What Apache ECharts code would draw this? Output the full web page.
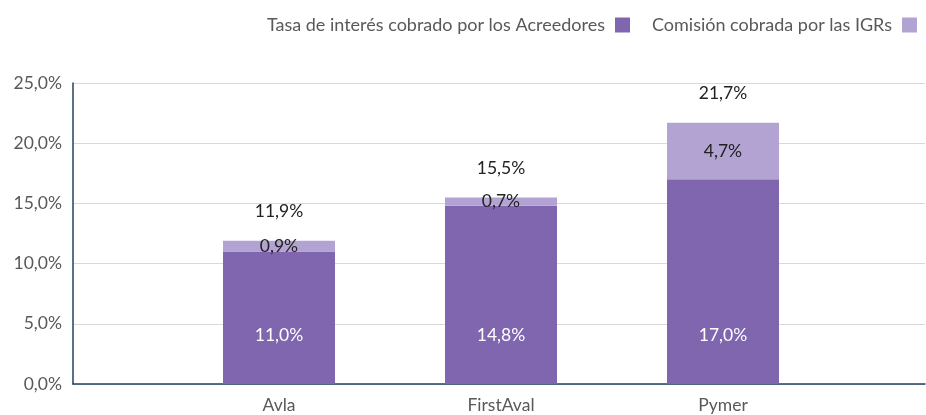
<!DOCTYPE html>
<html>
<head>
<meta charset="utf-8">
<script src="https://cdn.jsdelivr.net/npm/echarts@6/dist/echarts.min.js"></script>
<style>
	html, body { margin: 0; padding: 0; background: #fff; }
	#chart { width: 926px; height: 415px; }
</style>
</head>
<body>
<div id="chart"></div>
<script>
// datos
const categories = ['Avla', 'FirstAval', 'Pymer'];
const tasaAcreedores = [11.0, 14.8, 17.0];
const comisionIGR = [0.9, 0.7, 4.7];
const totales = [11.9, 15.5, 21.7];
const yTicks = [0, 5, 10, 15, 20, 25];

const FONT = 'Lato';
const fmt = v => v.toFixed(1).replace('.', ',') + '%';

let myChart = echarts.init(document.getElementById('chart'));
myChart.setOption({
	animation: false,
	textStyle: { fontFamily: FONT },
	legend: {
		top: 11,
		right: 4,
		align: 'right',
		itemWidth: 15,
		itemHeight: 15,
		itemGap: 22,
		icon: 'rect',
		data: ['Tasa de interés cobrado por los Acreedores', 'Comisión cobrada por las IGRs'],
		textStyle: { fontFamily: FONT, fontSize: 18, color: '#595959', padding: [0, 5, 0, 0] }
	},
	grid: [
		// grilla completa: ejes y líneas
		{ left: 73, right: 1, top: 83, bottom: 31 },
		// grilla de barras
		{ left: 168, right: 92, top: 83, bottom: 31 }
	],
	xAxis: [
		{
			gridIndex: 0,
			type: 'value',
			min: 0,
			max: 1,
			axisLine: { show: true, lineStyle: { color: '#22405F', width: 1.5 } },
			axisTick: { show: false },
			axisLabel: { show: false },
			splitLine: { show: false }
		},
		{
			gridIndex: 1,
			type: 'category',
			data: categories,
			axisLine: { show: false },
			axisTick: { show: false },
			axisLabel: { fontFamily: FONT, fontSize: 17.5, color: '#595959', margin: 12 }
		}
	],
	yAxis: [
		{
			gridIndex: 0,
			type: 'value',
			min: yTicks[0],
			max: yTicks[yTicks.length - 1],
			interval: 5,
			axisLine: { show: true, lineStyle: { color: '#22405F', width: 1.5 } },
			axisTick: { show: false },
			axisLabel: { fontFamily: FONT, fontSize: 17.5, color: '#595959', margin: 11, formatter: fmt },
			splitLine: { lineStyle: { color: '#D9D9D9' } }
		},
		{
			gridIndex: 1,
			type: 'value',
			min: yTicks[0],
			max: yTicks[yTicks.length - 1],
			show: false
		}
	],
	series: [
		{
			name: 'Tasa de interés cobrado por los Acreedores',
			type: 'bar',
			xAxisIndex: 1,
			yAxisIndex: 1,
			stack: 'total',
			barWidth: 112,
			data: tasaAcreedores,
			itemStyle: { color: '#7F66AE' },
			label: {
				show: true,
				position: ['50%', '100%'],
				offset: [0, -49],
				align: 'center',
				verticalAlign: 'middle',
				color: '#fff',
				fontFamily: FONT,
				fontSize: 17.5,
				formatter: p => fmt(p.value)
			}
		},
		{
			name: 'Comisión cobrada por las IGRs',
			type: 'bar',
			xAxisIndex: 1,
			yAxisIndex: 1,
			stack: 'total',
			barWidth: 112,
			data: comisionIGR,
			itemStyle: { color: '#B3A3D2' },
			label: {
				show: true,
				position: 'inside',
				color: '#222',
				fontFamily: FONT,
				fontSize: 17.5,
				formatter: p => fmt(p.value)
			}
		},
		{
			// totales (barra transparente)
			name: 'Total',
			type: 'bar',
			xAxisIndex: 1,
			yAxisIndex: 1,
			barWidth: 112,
			barGap: '-100%',
			z: 1,
			data: totales,
			itemStyle: { color: 'rgba(0,0,0,0)' },
			label: {
				show: true,
				position: 'top',
				distance: 20,
				color: '#222',
				fontFamily: FONT,
				fontSize: 17.5,
				formatter: p => fmt(p.value)
			}
		}
	]
});
</script>
</body>
</html>
